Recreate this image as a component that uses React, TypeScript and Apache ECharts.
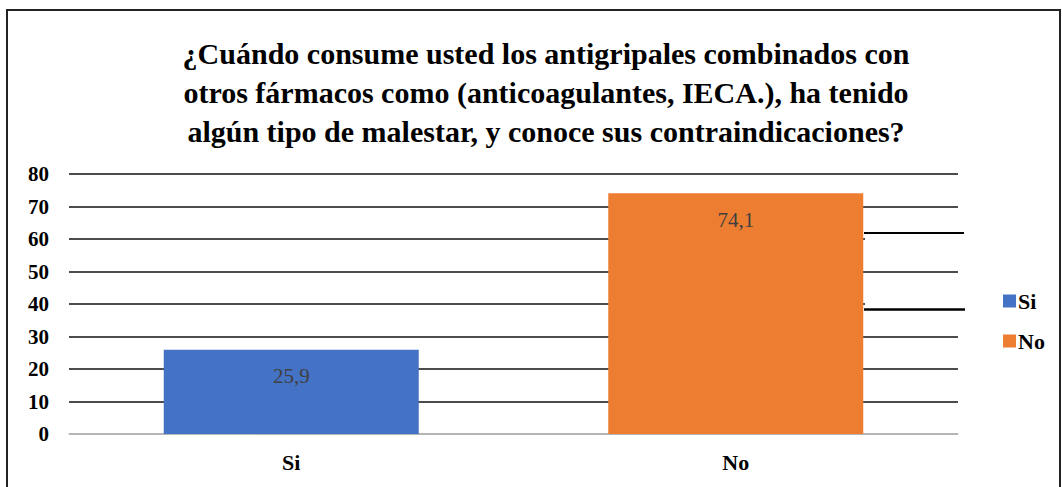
import React, { useEffect, useRef } from "react";
import * as echarts from "echarts";

const categories = ["Si", "No"];
const siValues = [25.9, null];
const noValues = [null, 74.1];
const yTicks = [0, 10, 20, 30, 40, 50, 60, 70, 80];
const titleText =
  "¿Cuándo consume usted los antigripales combinados con\notros fármacos como (anticoagulantes, IECA.), ha tenido\nalgún tipo de malestar, y conoce sus contraindicaciones?";

const SERIF = "Liberation Serif";

export default function App() {
  const ref = useRef<HTMLDivElement>(null);
  useEffect(() => {
    document.body.style.margin = "0";
    const chart = echarts.init(ref.current!, null, { renderer: "svg" });
    const label = {
      show: true,
      position: "insideTop",
      distance: 16,
      formatter: (p: any) => String(p.value).replace(".", ","),
      color: "#404040",
      fontSize: 21,
      fontWeight: "normal",
      fontFamily: SERIF,
    };
    chart.setOption({
      animation: false,
      title: {
        text: titleText,
        left: 541,
        textAlign: "center",
        top: 29,
        textStyle: {
          fontFamily: SERIF,
          fontWeight: "bold",
          fontSize: 30,
          lineHeight: 39,
          color: "#000",
        },
      },
      legend: {
        orient: "vertical",
        left: 998,
        top: 285,
        itemWidth: 13,
        itemHeight: 13,
        itemGap: 18,
        icon: "rect",
        textStyle: {
          fontFamily: SERIF,
          fontWeight: "bold",
          fontSize: 22,
          color: "#000",
          padding: [0, 0, 0, -3],
        },
        data: ["Si", "No"],
      },
      grid: { left: 69, right: 104, top: 174, bottom: 53 },
      xAxis: {
        type: "category",
        data: categories,
        axisTick: { show: false },
        axisLine: { lineStyle: { color: "#d9d9d9", width: 1.5 } },
        axisLabel: {
          fontFamily: SERIF,
          fontWeight: "bold",
          fontSize: 22,
          color: "#000",
          margin: 17,
        },
      },
      yAxis: {
        type: "value",
        min: yTicks[0],
        max: yTicks[yTicks.length - 1],
        interval: 10,
        axisLabel: {
          fontFamily: SERIF,
          fontWeight: "bold",
          fontSize: 21,
          color: "#000",
          margin: 20,
        },
        splitLine: { lineStyle: { color: "#111", width: 1.6 } },
      },
      series: [
        {
          name: "Si",
          type: "bar",
          stack: "s",
          data: siValues,
          barWidth: 255,
          itemStyle: { color: "#4472C4" },
          label,
        },
        {
          name: "No",
          type: "bar",
          stack: "s",
          data: noValues,
          barWidth: 255,
          itemStyle: { color: "#ED7D31" },
          label,
        },
      ],
      graphic: [
        {
          type: "rect",
          shape: { x: 7, y: 10, width: 1053, height: 490 },
          style: { fill: "none", stroke: "#222", lineWidth: 2 },
          silent: true,
        },
        {
          type: "rect",
          shape: { x: 865, y: 235, width: 96, height: 6 },
          style: { fill: "#fff" },
          z: 100,
          silent: true,
        },
        {
          type: "rect",
          shape: { x: 865, y: 301, width: 96, height: 6 },
          style: { fill: "#fff" },
          z: 100,
          silent: true,
        },
        {
          type: "line",
          shape: { x1: 864, y1: 233, x2: 964, y2: 233 },
          style: { stroke: "#000", lineWidth: 2 },
          z: 101,
          silent: true,
        },
        {
          type: "line",
          shape: { x1: 864, y1: 309.5, x2: 965, y2: 309.5 },
          style: { stroke: "#000", lineWidth: 2.5 },
          z: 101,
          silent: true,
        },
      ],
    });
    return () => chart.dispose();
  }, []);
  return <div ref={ref} style={{ width: 1062, height: 487 }} />;
}
